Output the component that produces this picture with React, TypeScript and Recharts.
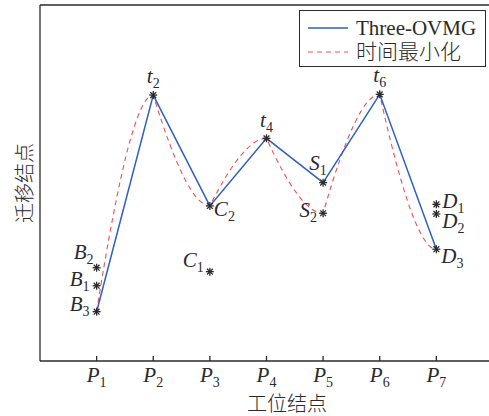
import React from "react";
import {
  ComposedChart, Line, Scatter, XAxis, YAxis, Legend, Label,
} from "recharts";

// station index on the x axis (P1..P7)
const stations = [1, 2, 3, 4, 5, 6, 7];
const stationTicks = ["1", "2", "3", "4", "5", "6", "7"];

// migration node level on each station
const ovmgY = [2.77, 14.94, 8.71, 12.51, 10.02, 14.98, 6.28];
const timeMinY = [2.77, 14.94, 8.71, 12.51, 8.3, 14.98, 6.28];

// candidate migration nodes (letter + subscript)
const nodeNames = ["B2", "B1", "B3", "C1", "C2", "t2", "t4", "S1", "S2", "t6", "D1", "D2", "D3"];
const nodeX = [1, 1, 1, 3, 3, 2, 4, 5, 5, 6, 7, 7, 7];
const nodeY = [5.24, 4.23, 2.77, 5.02, 8.71, 14.94, 12.51, 10.02, 8.3, 14.98, 8.8, 8.26, 6.28];

const ovmgData = stations.map((x, i) => ({ x, y: ovmgY[i] }));
const timeMinData = stations.map((x, i) => ({ x, y: timeMinY[i] }));
const nodes = nodeNames.map((name, i) => ({ name, x: nodeX[i], y: nodeY[i] }));

// where each node label sits relative to its marker
const labelPlace: Record<string, { dx: number; dy: number; anchor: "start" | "middle" | "end" }> = {
  B2: { dx: -3, dy: -9, anchor: "end" },
  B1: { dx: -7, dy: 0, anchor: "end" },
  B3: { dx: -7, dy: -1, anchor: "end" },
  C1: { dx: -6, dy: -5, anchor: "end" },
  C2: { dx: 4, dy: 10, anchor: "start" },
  t2: { dx: 0, dy: -12, anchor: "middle" },
  t4: { dx: 0, dy: -11, anchor: "middle" },
  t6: { dx: 0, dy: -12, anchor: "middle" },
  S1: { dx: -5, dy: -13, anchor: "middle" },
  S2: { dx: -6, dy: 4, anchor: "end" },
  D1: { dx: 6, dy: 4, anchor: "start" },
  D2: { dx: 6, dy: 14, anchor: "start" },
  D3: { dx: 5, dy: 14, anchor: "start" },
};

const SERIF = "'Liberation Serif', 'DejaVu Serif', serif";
const CJK = "'Noto Sans CJK SC', sans-serif";
const INK = "#2a2a2a";

// each segment leaves its start point steeply and settles flat onto the next point
function settleCurve(context: any) {
  let px = NaN, n = 0, line = NaN;
  return {
    areaStart() { line = 0; },
    areaEnd() { line = NaN; },
    lineStart() { n = 0; },
    lineEnd() {
      if (line || (line !== 0 && n === 1)) context.closePath();
      line = 1 - line;
    },
    point(x: number, y: number) {
      x = +x; y = +y;
      if (n === 0) {
        if (line) context.lineTo(x, y); else context.moveTo(x, y);
      } else {
        context.quadraticCurveTo(px + (x - px) * 0.6, y, x, y);
      }
      px = x; n++;
    },
  };
}

function Star({ cx, cy }: { cx: number; cy: number }) {
  const r = 4, d = 2.9;
  return (
    <g stroke={INK} strokeWidth={1.3}>
      <line x1={cx - r} y1={cy} x2={cx + r} y2={cy} />
      <line x1={cx} y1={cy - r} x2={cx} y2={cy + r} />
      <line x1={cx - d} y1={cy - d} x2={cx + d} y2={cy + d} />
      <line x1={cx - d} y1={cy + d} x2={cx + d} y2={cy - d} />
    </g>
  );
}

function NodeShape(props: any) {
  const { cx, cy, payload } = props;
  const p = labelPlace[payload.name];
  return (
    <g>
      <Star cx={cx} cy={cy} />
      <text x={cx + p.dx} y={cy + p.dy} textAnchor={p.anchor} fontFamily={SERIF}
            fontSize={21} fill={INK}>
        <tspan fontStyle="italic">{payload.name[0]}</tspan>
        <tspan fontSize={14} dy={5}>{payload.name.slice(1)}</tspan>
      </text>
    </g>
  );
}

function StationTick(props: any) {
  const { x, y, payload } = props;
  return (
    <g>
      <line x1={x} y1={y} x2={x} y2={y - 5} stroke={INK} strokeWidth={1.3} />
      <text x={x} y={y + 21} textAnchor="middle" fontFamily={SERIF} fontSize={21} fill={INK}>
        <tspan fontStyle="italic">P</tspan>
        <tspan fontSize={14} dy={5}>{stationTicks[payload.value - 1]}</tspan>
      </text>
    </g>
  );
}

function LegendBox({ payload }: any) {
  const items = (payload || []).filter((e: any) => e.type !== "none");
  return (
    <div style={{
      border: `1.5px solid ${INK}`, background: "#fff", padding: "5px 8px 3px 8px",
      boxSizing: "border-box", width: 187, height: 57,
    }}>
      {items.map((e: any) => (
        <div key={e.value} style={{ display: "flex", alignItems: "center", height: 24 }}>
          <svg width={40} height={4} style={{ marginRight: 8 }}>
            <line x1={0} y1={2} x2={40} y2={2} stroke={e.color}
                  strokeWidth={e.payload?.strokeWidth ?? 1.5}
                  strokeDasharray={e.payload?.strokeDasharray} />
          </svg>
          <span style={{
            fontFamily: `'Liberation Serif', ${CJK}`, fontSize: 21, fontWeight: 300,
            color: INK, lineHeight: "24px",
          }}>
            {e.value}
          </span>
        </div>
      ))}
    </div>
  );
}

export default function App() {
  return (
    <div style={{ position: "absolute", left: 0, top: 0, width: 489, height: 416, background: "#fff" }}>
      <ComposedChart width={489} height={416} margin={{ top: 4, right: 0, left: 39, bottom: 25 }}>
        <XAxis dataKey="x" type="number" domain={[0, 7.93]} allowDataOverflow ticks={stations}
               height={30} tickSize={0} tickMargin={0} tickLine={false} tick={<StationTick />}
               axisLine={{ stroke: INK, strokeWidth: 1.3 }}>
          <Label content={() => (
            <text x={287} y={411} textAnchor="middle" fontFamily={CJK} fontWeight={300}
                  fontSize={20} fill={INK}>工位结点</text>
          )} />
        </XAxis>
        <XAxis xAxisId="top" orientation="top" type="number" domain={[0, 7.93]} height={1}
               tick={false} tickLine={false} axisLine={{ stroke: INK, strokeWidth: 1.3 }} />
        <YAxis type="number" domain={[0, 20]} width={1} tick={false} tickLine={false}
               axisLine={{ stroke: INK, strokeWidth: 1.3 }}>
          <Label content={() => (
            <text x={23} y={183} textAnchor="middle" dominantBaseline="central" fontFamily={CJK}
                  fontWeight={300} fontSize={20} fill={INK} transform="rotate(-90, 23, 183)">迁移结点</text>
          )} />
        </YAxis>
        <Legend layout="horizontal" verticalAlign="middle" align="center" content={<LegendBox />}
                wrapperStyle={{ position: "absolute", top: 10, left: 299, width: 187, height: 57 }} />
        <Line data={timeMinData} dataKey="y" name="时间最小化" type={settleCurve as any} stroke="#f0505a"
              strokeWidth={1.1} strokeDasharray="5 4" dot={false} isAnimationActive={false} />
        <Line data={ovmgData} dataKey="y" name="Three-OVMG" type="linear" stroke="#2f5fbf"
              strokeWidth={1.5} dot={false} isAnimationActive={false} />
        <Scatter data={nodes} dataKey="y" legendType="none" shape={<NodeShape />}
                 isAnimationActive={false} />
      </ComposedChart>
    </div>
  );
}
